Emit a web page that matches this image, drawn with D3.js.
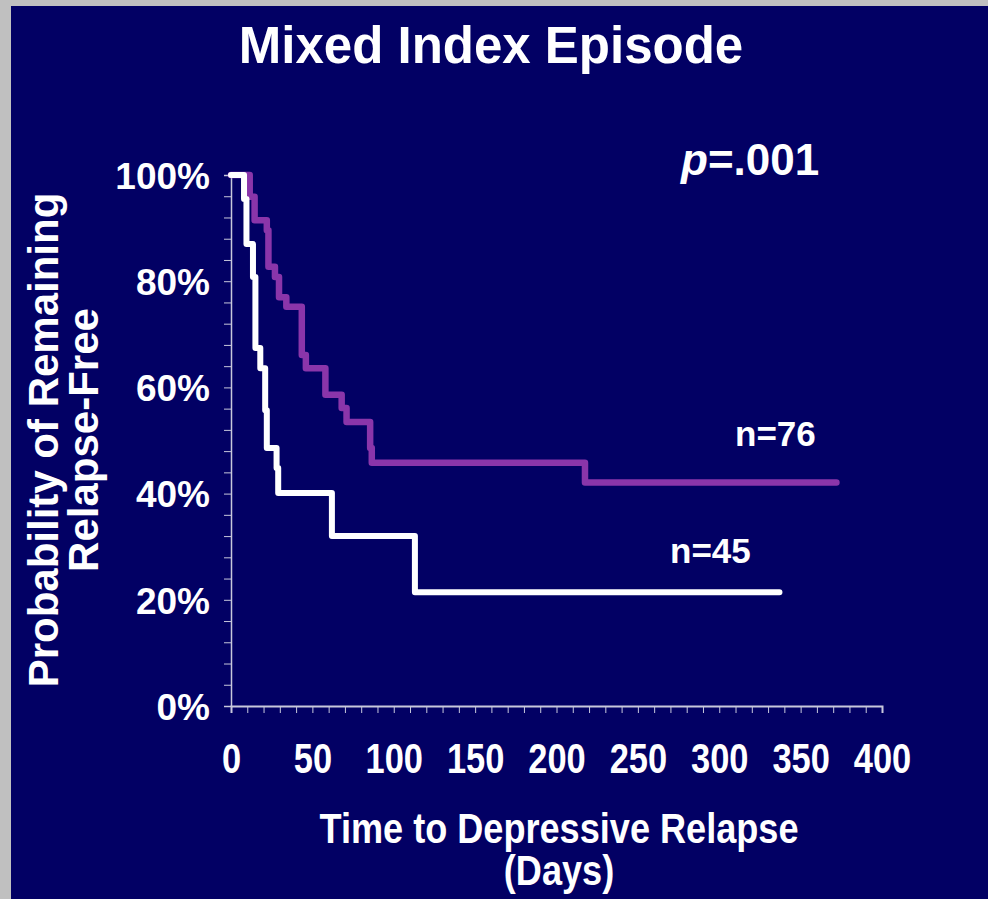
<!DOCTYPE html>
<html>
<head>
<meta charset="utf-8">
<script src="https://cdn.jsdelivr.net/npm/d3@7"></script>
<style>
  html, body { margin: 0; padding: 0; background: #c0c0c0; }
  svg { display: block; }
  text { font-family: "Liberation Sans", Arial, sans-serif; font-weight: bold; fill: #ffffff; }
</style>
</head>
<body>
<script>
// ---- Data ----
const title = "Mixed Index Episode";
const pValueLabel = ".001";
const xTickLabels = [0, 50, 100, 150, 200, 250, 300, 350, 400];
const yTickLabels = [0, 20, 40, 60, 80, 100];
const seriesNames = ["n=76", "n=45"];
// Purple group (n=76): time in days, survival %
const purpleT = [0, 11.5, 14.5, 22, 23, 27, 29.5, 34, 43.5, 46, 58, 68, 71, 85.5, 86.5, 217.5, 372];
const purpleS = [100, 95.9, 91.5, 89.6, 82.7, 80.8, 77.0, 75.2, 66.1, 63.6, 58.6, 56.1, 53.5, 48.6, 45.8, 42.1, 42.1];
// White group (n=45)
const whiteT = [0, 8, 9.5, 13.5, 15, 18, 21, 22, 28, 29, 62, 113, 337];
const whiteS = [100, 95.5, 87.0, 80.8, 67.4, 63.6, 55.7, 48.6, 44.8, 40.1, 32.0, 21.4, 21.4];

const W = 988, H = 899;
const svg = d3.select("body").append("svg").attr("width", W).attr("height", H);

// background + gray frame on left and top
svg.append("rect").attr("x", 0).attr("y", 0).attr("width", W).attr("height", H).attr("fill", "#c0c0c0");
svg.append("rect").attr("x", 11).attr("y", 6).attr("width", W - 11).attr("height", H - 6).attr("fill", "#020064");

const x = d3.scaleLinear().domain([0, 400]).range([231, 882]);
const y = d3.scaleLinear().domain([0, 100]).range([706, 175]);
const axisColor = "#c8c8dc";

// Y axis minor ticks
const yAx = svg.append("g").attr("transform", `translate(${x(0)},0)`)
  .call(d3.axisLeft(y).tickValues(d3.range(0, 101, 4)).tickSize(7).tickFormat(""));
yAx.select(".domain").attr("stroke", axisColor).attr("stroke-width", 1.5);
yAx.selectAll(".tick line").attr("stroke", axisColor).attr("stroke-width", 1);

// Y labels
const yLab = svg.append("g").attr("transform", `translate(${x(0)},0)`)
  .call(d3.axisLeft(y).tickValues(yTickLabels).tickSize(0).tickPadding(21).tickFormat(d => d + "%"));
yLab.select(".domain").remove();
yLab.selectAll("text").attr("font-size", 37).attr("fill", "#ffffff")
  .attr("font-family", "Liberation Sans, Arial, sans-serif").attr("font-weight", "bold").attr("dy", "0.36em");

// X axis
const xAx = svg.append("g").attr("transform", `translate(0,${y(0)})`)
  .call(d3.axisBottom(x).tickValues(d3.range(0, 401, 10)).tickSize(7).tickFormat(""));
xAx.select(".domain").attr("stroke", axisColor).attr("stroke-width", 2);
xAx.selectAll(".tick line").attr("stroke", axisColor).attr("stroke-width", 1);

const xLab = svg.append("g").attr("transform", `translate(0,${y(0)})`)
  .call(d3.axisBottom(x).tickValues(xTickLabels).tickSize(0).tickPadding(0).tickFormat(d3.format("d")));
xLab.select(".domain").remove();
xLab.selectAll("text").attr("font-size", 42).attr("fill", "#ffffff")
  .attr("font-family", "Liberation Sans, Arial, sans-serif").attr("font-weight", "bold")
  .attr("y", 67).attr("dy", 0).attr("transform", "scale(0.82,1)")
  .each(function() { d3.select(this).attr("x", 0); });

// Curves
const line = d3.line().curve(d3.curveStepAfter).x(d => x(d[0])).y(d => y(d[1]));
const purpleData = purpleT.map((t, i) => [t, purpleS[i]]);
const whiteData = whiteT.map((t, i) => [t, whiteS[i]]);
svg.append("path").datum(purpleData).attr("d", line).attr("fill", "none")
  .attr("stroke", "#8a35aa").attr("stroke-width", 6.5).attr("stroke-linecap", "round").attr("stroke-linejoin", "round");
svg.append("path").datum(whiteData).attr("d", line).attr("fill", "none")
  .attr("stroke", "#ffffff").attr("stroke-width", 6).attr("stroke-linecap", "round").attr("stroke-linejoin", "round");

// Series labels
svg.append("text").attr("x", 735).attr("y", 446).attr("font-size", 35).text(seriesNames[0]);
svg.append("text").attr("x", 670).attr("y", 563).attr("font-size", 35).text(seriesNames[1]);

// Title
svg.append("text").attr("x", 491).attr("y", 63).attr("text-anchor", "middle").attr("font-size", 51).text(title);

// p-value
const pt = svg.append("text").attr("x", 681).attr("y", 175).attr("font-size", 44);
pt.append("tspan").attr("font-style", "italic").text("p");
pt.append("tspan").text("=" + pValueLabel);

// Y axis title
const yt = svg.append("text").attr("transform", "translate(58,440) rotate(-90)")
  .attr("text-anchor", "middle").attr("font-size", 42);
yt.append("tspan").attr("x", 0).attr("y", 0).text("Probability of Remaining");
yt.append("tspan").attr("x", 0).attr("y", 40).text("Relapse-Free");

// X axis title
const xt = svg.append("g").attr("transform", "translate(559,0) scale(0.86,1)");
xt.append("text").attr("x", 0).attr("y", 843).attr("text-anchor", "middle").attr("font-size", 42).text("Time to Depressive Relapse");
xt.append("text").attr("x", 0).attr("y", 885).attr("text-anchor", "middle").attr("font-size", 42).text("(Days)");
</script>
</body>
</html>
